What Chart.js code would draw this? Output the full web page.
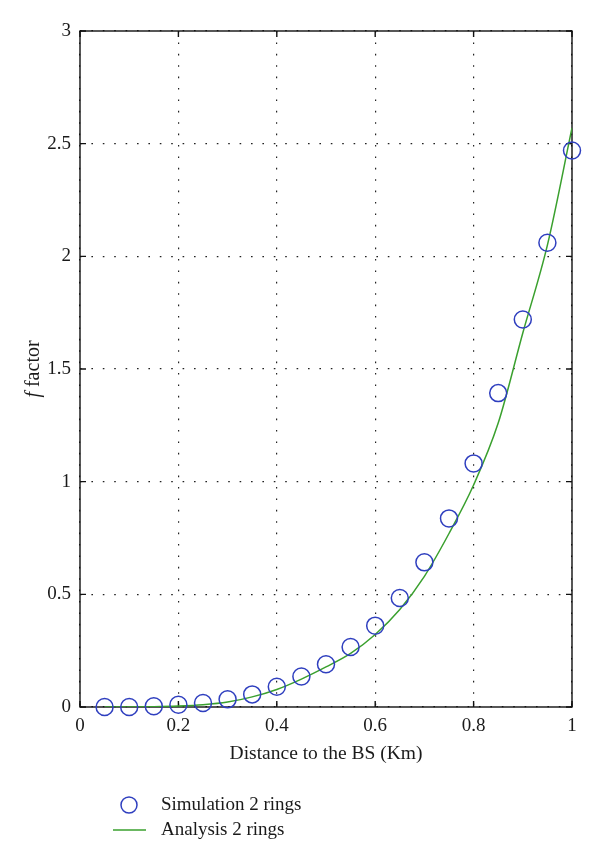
<!DOCTYPE html>
<html>
<head>
<meta charset="utf-8">
<script src="https://cdn.jsdelivr.net/npm/chart.js@4/dist/chart.umd.min.js"></script>
<style>
  html, body { margin: 0; padding: 0; background: #fff; }
  #c { display: block; }
</style>
</head>
<body>
<canvas id="c" width="600" height="864"></canvas>
<script>
// ---- data ----
const distances = [0.05, 0.10, 0.15, 0.20, 0.25, 0.30, 0.35, 0.40, 0.45, 0.50,
                   0.55, 0.60, 0.65, 0.70, 0.75, 0.80, 0.85, 0.90, 0.95, 1.00];
const simulationValues = [0.000, 0.000, 0.003, 0.010, 0.018, 0.034, 0.056, 0.090, 0.135, 0.190,
                          0.266, 0.361, 0.484, 0.642, 0.837, 1.081, 1.393, 1.720, 2.060, 2.470];
const analysisValues = [0.000, 0.000, 0.001, 0.004, 0.010, 0.022, 0.045, 0.078, 0.124, 0.178,
                        0.238, 0.322, 0.433, 0.580, 0.770, 0.985, 1.260, 1.660, 2.050, 2.570];
const seriesLabels = ['Simulation 2 rings', 'Analysis 2 rings'];
const xTickValues = [0, 0.2, 0.4, 0.6, 0.8, 1];
const xTickLabels = ['0', '0.2', '0.4', '0.6', '0.8', '1'];
const yTickValues = [0, 0.5, 1, 1.5, 2, 2.5, 3];
const yTickLabels = ['0', '0.5', '1', '1.5', '2', '2.5', '3'];
const xAxisTitle = 'Distance to the BS (Km)';
const yAxisTitleItalic = 'f';
const yAxisTitleRest = ' factor';

const FONT = '"Liberation Serif", "DejaVu Serif", serif';
const TEXT = '#1a1a1a';
const BLUE = '#2f3fbf';
const GREEN = '#3aa02e';

const simPoints = distances.map((d, i) => ({ x: d, y: simulationValues[i] }));
const anaPoints = distances.map((d, i) => ({ x: d, y: analysisValues[i] }));

const decor = {
  id: 'decor',
  beforeDatasetsDraw(chart) {
    const { ctx, chartArea: a, scales: { x, y } } = chart;
    ctx.save();
    ctx.strokeStyle = '#111';
    ctx.lineWidth = 1.4;
    ctx.setLineDash([]);
    ctx.strokeRect(a.left, a.top, a.right - a.left, a.bottom - a.top);
    const tl = 6;
    ctx.beginPath();
    xTickValues.forEach(v => {
      const px = x.getPixelForValue(v);
      ctx.moveTo(px, a.bottom); ctx.lineTo(px, a.bottom - tl);
      ctx.moveTo(px, a.top); ctx.lineTo(px, a.top + tl);
    });
    yTickValues.forEach(v => {
      const py = y.getPixelForValue(v);
      ctx.moveTo(a.left, py); ctx.lineTo(a.left + tl, py);
      ctx.moveTo(a.right, py); ctx.lineTo(a.right - tl, py);
    });
    ctx.stroke();
    ctx.restore();
  },
  afterDraw(chart) {
    const { ctx, chartArea: a } = chart;
    ctx.save();
    // y axis title (rotated, italic f)
    const cy = (a.top + a.bottom) / 2;
    ctx.translate(34, cy);
    ctx.rotate(-Math.PI / 2);
    ctx.fillStyle = TEXT;
    ctx.textBaseline = 'middle';
    const fItalic = 'italic 20px ' + FONT;
    const fNormal = '20px ' + FONT;
    ctx.font = fItalic;
    const w1 = ctx.measureText(yAxisTitleItalic).width;
    ctx.font = fNormal;
    const w2 = ctx.measureText(yAxisTitleRest).width;
    let sx = -(w1 + w2) / 2;
    ctx.font = fItalic;
    ctx.textAlign = 'left';
    ctx.fillText(yAxisTitleItalic, sx, 0);
    ctx.font = fNormal;
    ctx.fillText(yAxisTitleRest, sx + w1, 0);
    ctx.restore();

    // legend
    ctx.save();
    const ds = chart.data.datasets;
    ctx.font = '19px ' + FONT;
    ctx.fillStyle = TEXT;
    ctx.textBaseline = 'middle';
    ctx.textAlign = 'left';
    const r1 = 805, r2 = 830, textX = 161;
    ctx.strokeStyle = ds[0].borderColor;
    ctx.lineWidth = ds[0].borderWidth;
    ctx.beginPath();
    ctx.arc(129, r1, 8, 0, Math.PI * 2);
    ctx.stroke();
    ctx.fillText(ds[0].label, textX, r1);
    ctx.strokeStyle = ds[1].borderColor;
    ctx.lineWidth = ds[1].borderWidth;
    ctx.beginPath();
    ctx.moveTo(113, r2); ctx.lineTo(146, r2);
    ctx.stroke();
    ctx.fillText(ds[1].label, textX, r2);
    ctx.restore();
  }
};

new Chart(document.getElementById('c'), {
  type: 'scatter',
  data: {
    datasets: [
      {
        type: 'scatter',
        label: seriesLabels[0],
        data: simPoints,
        pointStyle: 'circle',
        pointRadius: 8.5,
        pointHoverRadius: 8.5,
        backgroundColor: 'rgba(0,0,0,0)',
        borderColor: BLUE,
        borderWidth: 1.5,
        clip: false,
        order: 0
      },
      {
        type: 'line',
        label: seriesLabels[1],
        data: anaPoints,
        borderColor: GREEN,
        borderWidth: 1.5,
        pointRadius: 0,
        fill: false,
        showLine: true,
        cubicInterpolationMode: 'monotone',
        order: 1
      }
    ]
  },
  options: {
    responsive: false,
    animation: false,
    devicePixelRatio: 1,
    layout: { padding: { top: 31, right: 28, left: 0, bottom: 87 } },
    plugins: {
      legend: { display: false },
      tooltip: { enabled: false }
    },
    scales: {
      x: {
        type: 'linear',
        min: 0, max: 1,
        afterBuildTicks: s => { s.ticks = xTickValues.map(v => ({ value: v })); },
        afterFit: s => { s.height = 70; },
        ticks: {
          padding: 8,
          color: TEXT,
          font: { family: FONT, size: 19 },
          maxRotation: 0,
          callback: (v, i) => xTickLabels[i]
        },
        grid: { drawTicks: false, color: '#222', lineWidth: 1.2 },
        border: { display: false, dash: [1.6, 9.8] },
        title: {
          display: true,
          text: xAxisTitle,
          color: TEXT,
          font: { family: FONT, size: 19.5 },
          padding: { top: 0, bottom: 11 }
        }
      },
      y: {
        type: 'linear',
        min: 0, max: 3,
        afterBuildTicks: s => { s.ticks = yTickValues.map(v => ({ value: v })); },
        afterFit: s => { s.width = 80; },
        ticks: {
          padding: 9,
          color: TEXT,
          font: { family: FONT, size: 19 },
          callback: (v, i) => yTickLabels[i]
        },
        grid: { drawTicks: false, color: '#222', lineWidth: 1.2 },
        border: { display: false, dash: [1.6, 9.8] }
      }
    }
  },
  plugins: [decor]
});
</script>
</body>
</html>
